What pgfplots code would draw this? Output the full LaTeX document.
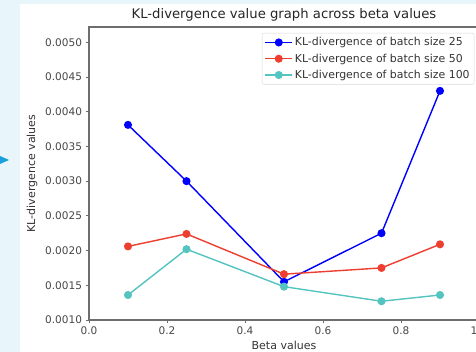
\documentclass[border=0pt]{standalone}
\usepackage{pgfplots}
\pgfplotsset{compat=1.18}
\usepackage{fontspec}
\setmainfont{DejaVu Sans}
\definecolor{bgblue}{RGB}{232,245,251}
\definecolor{arrowblue}{RGB}{25,160,220}
\definecolor{kred}{RGB}{238,62,48}
\definecolor{kcyan}{RGB}{84,196,192}
\definecolor{spine}{RGB}{110,110,110}
\begin{document}
\begin{tikzpicture}[x=1pt,y=1pt]
\clip (0,0) rectangle (476,352);
\fill[bgblue] (0,0) rectangle (476,352);
\fill[white] (20,0) rectangle (476,348);
\fill[arrowblue] (0,196) -- (9,192) -- (0,188) -- cycle;
\begin{axis}[
  at={(89pt,32pt)}, anchor=south west,
  scale only axis, width=390pt, height=293pt,
  xmin=0, xmax=1, ymin=0.001, ymax=0.00522,
  xtick={0,0.2,0.4,0.6,0.8,1.0},
  xticklabels={0.0,0.2,0.4,0.6,0.8,1.0},
  ytick={0.001,0.0015,0.002,0.0025,0.003,0.0035,0.004,0.0045,0.005},
  yticklabels={0.0010,0.0015,0.0020,0.0025,0.0030,0.0035,0.0040,0.0045,0.0050},
  scaled y ticks=false,
  tick align=outside, tick pos=left,
  major tick length=3.5pt,
  axis line style={spine, line width=1.1pt},
  every tick/.style={spine, line width=0.9pt},
  tick label style={font=\fontsize{10.5}{12}\selectfont, text=black!72},
  title={KL-divergence value graph across beta values},
  title style={font=\fontsize{13.2}{15}\selectfont, text=black!85, yshift=-4pt},
  xlabel={Beta values},
  ylabel={KL-divergence values},
  label style={font=\fontsize{11}{13}\selectfont, text=black!80},
  xlabel style={yshift=1pt},
  ylabel style={yshift=1pt},
  legend style={at={(0.988,0.98)}, anchor=north east, draw=black!15, rounded corners=2pt,
    font=\fontsize{10.9}{13}\selectfont, text=black!80, row sep=2.5pt, inner sep=2.5pt},
  legend cell align=left,
  legend image code/.code={\draw[mark repeat=2,mark phase=2] plot coordinates {(0pt,0pt) (13.5pt,0pt) (27pt,0pt)};},
  every axis plot/.append style={line width=1.4pt, mark=*, mark size=3.3pt},
]
\addplot[blue, mark options={fill=blue}] coordinates {(0.1,0.00381) (0.25,0.00300) (0.5,0.00155) (0.75,0.00225) (0.9,0.00430)};
\addlegendentry{KL-divergence of batch size 25}
\addplot[kred, mark options={fill=kred}] coordinates {(0.1,0.00206) (0.25,0.00224) (0.5,0.00166) (0.75,0.00175) (0.9,0.00209)};
\addlegendentry{KL-divergence of batch size 50}
\addplot[kcyan, mark options={fill=kcyan}] coordinates {(0.1,0.00136) (0.25,0.00202) (0.5,0.00148) (0.75,0.00127) (0.9,0.00136)};
\addlegendentry{KL-divergence of batch size 100}
\end{axis}
\end{tikzpicture}
\end{document}
